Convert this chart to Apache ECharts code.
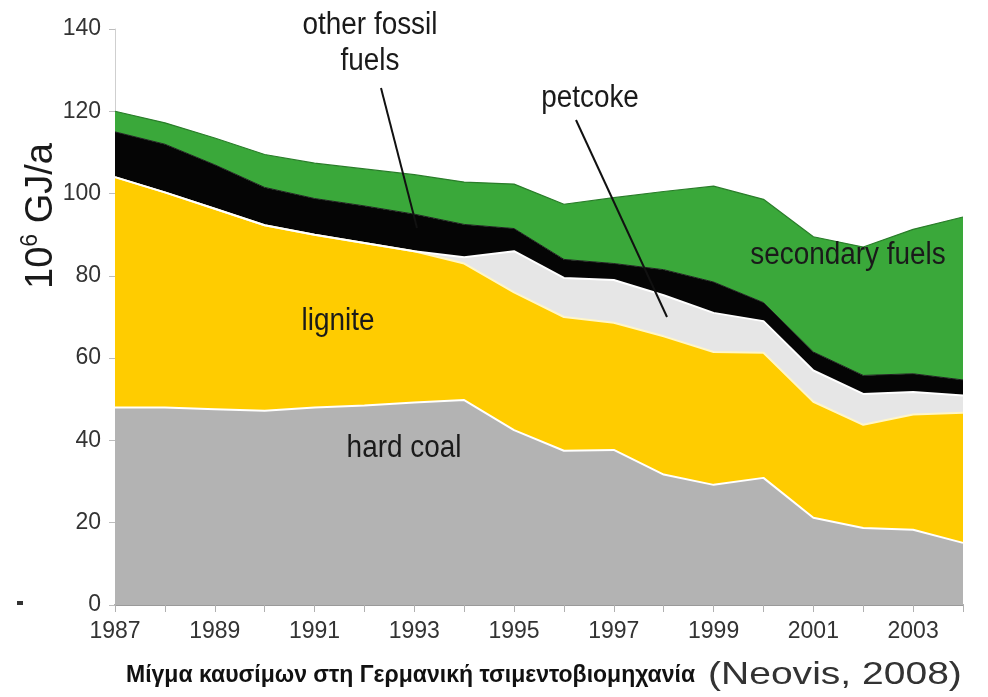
<!DOCTYPE html>
<html>
<head>
<meta charset="utf-8">
<script src="https://cdn.jsdelivr.net/npm/echarts@6/dist/echarts.min.js"></script>
<style>
html,body{margin:0;padding:0;background:#fff;}
#chart{width:988px;height:697px;}
</style>
</head>
<body>
<div id="chart"></div>
<script>
const years = ['1987','1988','1989','1990','1991','1992','1993','1994','1995','1996','1997','1998','1999','2000','2001','2002','2003','2004'];
const hardCoal = [48,48,47.6,47.2,48,48.5,49.2,49.8,42.5,37.5,37.7,31.7,29.2,30.9,21.2,18.7,18.3,15.1];
const lignite = [56,52.3,48.7,45.1,42,39.5,36.8,33.2,33.5,32.5,30.9,33.6,32.3,30.4,28.2,25.1,28,31.6];
const petcoke = [0,0,0,0,0,0,0,1.5,10,9.5,10.4,10,9.5,7.7,7.6,7.5,5.5,4.2];
const otherFossil = [11,11.7,10.7,9.2,8.8,9,9,8,5.5,4.5,4,6.2,7.5,4.5,4.5,4.5,4.4,3.8];
const secondaryFuels = [5,5.2,6.5,8,8.6,9,9.6,10.3,10.8,13.4,16,19,23.3,25.1,28,31.2,35.1,39.6];
const yTicks = {min:0, max:140, interval:20};

const chart = echarts.init(document.getElementById('chart'));
const font = '"Liberation Sans", Arial, sans-serif';

function areaSeries(name, data, fill, lineColor, lineWidth){
  return {
    name, type:'line', stack:'total', data,
    showSymbol:false, symbol:'none',
    lineStyle:{color:lineColor, width:lineWidth},
    areaStyle:{color:fill, opacity:1},
    emphasis:{disabled:true}
  };
}

function annot(text, x, y, size){
  return {
    type:'text', x, y, scaleX:0.9, z:100,
    style:{text, x:0, y:0, align:'center', verticalAlign:'middle',
      fontFamily:font, fontSize:size||31, fill:'#1a1a1a', lineHeight:36}
  };
}

chart.setOption({
  animation:false,
  backgroundColor:'#fff',
  grid:{left:115, right:25, top:29, bottom:92, containLabel:false},
  xAxis:{
    type:'category', data:years, boundaryGap:false,
    axisLine:{lineStyle:{color:'#9a9a9a', width:2}},
    axisTick:{show:true, interval:0, length:7, lineStyle:{color:'#b0b0b0'}},
    axisLabel:{interval:1, fontFamily:font, fontSize:23, color:'#333', margin:15}
  },
  yAxis:{
    type:'value', min:yTicks.min, max:yTicks.max, interval:yTicks.interval,
    axisLine:{show:true, lineStyle:{color:'#cfcfcf'}},
    axisTick:{show:true, length:6, lineStyle:{color:'#bdbdbd'}},
    splitLine:{show:false},
    axisLabel:{fontFamily:font, fontSize:23, color:'#333', margin:14}
  },
  series:[
    areaSeries('hard coal', hardCoal, '#b3b3b3', '#ffffff', 2),
    areaSeries('lignite', lignite, '#ffcc00', '#fff6c8', 2),
    areaSeries('petcoke', petcoke, '#e6e6e6', '#ffffff', 2),
    areaSeries('other fossil fuels', otherFossil, '#050505', '#202020', 1),
    areaSeries('secondary fuels', secondaryFuels, '#3aa83a', '#2a7d2a', 1.2)
  ],
  graphic:[
    annot('other fossil\nfuels', 370, 43),
    annot('petcoke', 590, 98),
    annot('secondary fuels', 848, 255),
    annot('lignite', 338, 321),
    annot('hard coal', 404, 448),
    {type:'line', z:101, shape:{x1:381, y1:88, x2:417, y2:228}, style:{stroke:'#111', lineWidth:2}},
    {type:'line', z:101, shape:{x1:576, y1:120, x2:667, y2:317}, style:{stroke:'#111', lineWidth:2}},
    {
      type:'text', x:40, y:216, rotation:Math.PI/2, z:100,
      style:{
        text:'{a|10}{s|6}{a| GJ/a}', x:0, y:0, align:'center', verticalAlign:'middle',
        fill:'#1a1a1a',
        rich:{
          a:{fontFamily:font, fontSize:38, fill:'#1a1a1a', lineHeight:42, verticalAlign:'bottom'},
          s:{fontFamily:font, fontSize:23, fill:'#1a1a1a', lineHeight:42, verticalAlign:'top'}
        }
      }
    },
    {type:'rect', shape:{x:17, y:601, width:6, height:4}, style:{fill:'#333'}},
    {
      type:'text', x:126, y:676, z:100,
      style:{
        text:'Μίγμα καυσίμων στη Γερμανική τσιμεντοβιομηχανία',
        x:0, y:0, align:'left', verticalAlign:'middle',
        fontFamily:font, fontSize:23, fontWeight:'bold', fill:'#111'
      }
    },
    {
      type:'text', x:708, y:675, z:100, scaleX:1.22,
      style:{
        text:'(Neovis, 2008)',
        x:0, y:0, align:'left', verticalAlign:'middle',
        fontFamily:font, fontSize:32, fill:'#333'
      }
    }
  ]
});
</script>
</body>
</html>
